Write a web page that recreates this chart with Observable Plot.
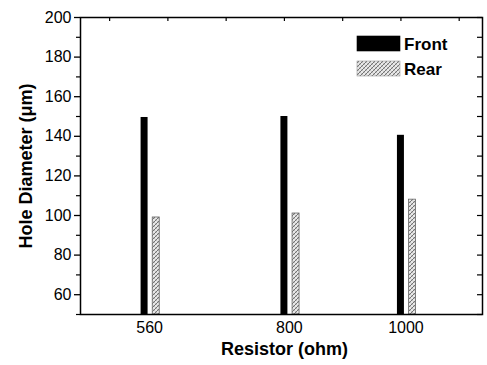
<!DOCTYPE html>
<html><head><meta charset="utf-8">
<script src="https://cdn.jsdelivr.net/npm/d3@7"></script>
<script src="https://cdn.jsdelivr.net/npm/@observablehq/plot@0.6"></script>
<style>body{margin:0;background:#fff}</style>
</head><body><div id="chart"></div>
<script>
const resistors = [560, 800, 1000];
const frontValues = [149.5, 150, 140.5];
const rearValues = [99, 101, 108];
const seriesNames = ["Front", "Rear"];
const yTicks = [60, 80, 100, 120, 140, 160, 180, 200];
const yMinorTicks = [50, 70, 90, 110, 130, 150, 170, 190];
const topTicks = [500, 600, 700, 800, 900, 1000, 1100];
const xLabel = "Resistor (ohm)";
const yLabel = "Hole Diameter (\u03bcm)";

const front = resistors.map((r, i) => ({r, v: frontValues[i], s: seriesNames[0]}));
const rear = resistors.map((r, i) => ({r, v: rearValues[i], s: seriesNames[1]}));
const halfW = 6, rearShift = 20, yBase = 50;
const font = "'Liberation Sans', Arial, sans-serif";

const chart = Plot.plot({
  width: 487, height: 365,
  marginLeft: 80, marginRight: 5, marginTop: 17, marginBottom: 51,
  x: {domain: [450, 1140]},
  y: {domain: [50, 200]},
  style: {fontFamily: font, color: "#000", background: "#fff"},
  marks: [
    Plot.rectY(front, {x1: d => d.r - halfW, x2: d => d.r + halfW, y1: yBase, y2: "v", fill: "#000"}),
    Plot.rectY(rear, {x1: d => d.r + rearShift - halfW, x2: d => d.r + rearShift + halfW, y1: yBase, y2: "v", fill: "url(#hatch)", stroke: "#666", strokeWidth: 0.8}),
    Plot.frame({stroke: "#000", strokeWidth: 1.5}),
    Plot.axisY({ticks: yTicks, tickSize: 6, tickPadding: 3, fontSize: 16, label: null, strokeWidth: 1.3}),
    Plot.axisY({ticks: yMinorTicks, tickSize: 4, text: null, label: null, strokeWidth: 1.2}),
    Plot.axisY({anchor: "left", frameAnchor: "right", ticks: yTicks.concat(yMinorTicks), tickSize: 5, text: null, label: null, strokeWidth: 1.2}),
    Plot.axisX({anchor: "bottom", frameAnchor: "top", ticks: topTicks, tickSize: 4, text: null, label: null, strokeWidth: 1.2}),
    Plot.axisX({ticks: resistors, tickSize: 0, tickPadding: 7, dx: 5, fontSize: 16, label: null, tickFormat: d => String(d)}),
    Plot.text([yLabel], {frameAnchor: "left", textAnchor: "middle", lineAnchor: "middle", dx: -54, rotate: -90, text: d => d, fontSize: 18, fontWeight: "bold"}),
    Plot.text([xLabel], {frameAnchor: "bottom", textAnchor: "middle", lineAnchor: "middle", dx: 3, dy: 35, text: d => d, fontSize: 18, fontWeight: "bold"})
  ]
});

const svg = d3.select(chart);
const defs = svg.insert("defs", ":first-child");
const pat = defs.append("pattern").attr("id", "hatch").attr("patternUnits", "userSpaceOnUse")
  .attr("width", 4).attr("height", 4);
pat.append("rect").attr("width", 4).attr("height", 4).attr("fill", "#e8e8e8");
pat.append("path").attr("d", "M-1,1 l2,-2 M0,4 l4,-4 M3,5 l2,-2").attr("stroke", "#666").attr("stroke-width", 0.9);
pat.append("path").attr("d", "M0,0 l4,4").attr("stroke", "#aaa").attr("stroke-width", 0.6);

// legend
const lg = svg.append("g").attr("text-anchor", "start");
const legendFills = ["#000", "url(#hatch)"];
seriesNames.forEach((name, i) => {
  lg.append("rect").attr("x", 357).attr("y", 36 + i * 25).attr("width", 43).attr("height", 15)
    .attr("fill", legendFills[i]).attr("stroke", i ? "#999" : "#000").attr("stroke-width", 0.6);
  lg.append("text").attr("x", 404).attr("y", 50 + i * 25).text(name).attr("text-anchor", "start")
    .attr("font-family", font).attr("font-size", 17).attr("font-weight", "bold").attr("fill", "#000");
});

document.getElementById("chart").appendChild(chart);
</script>
</body></html>
